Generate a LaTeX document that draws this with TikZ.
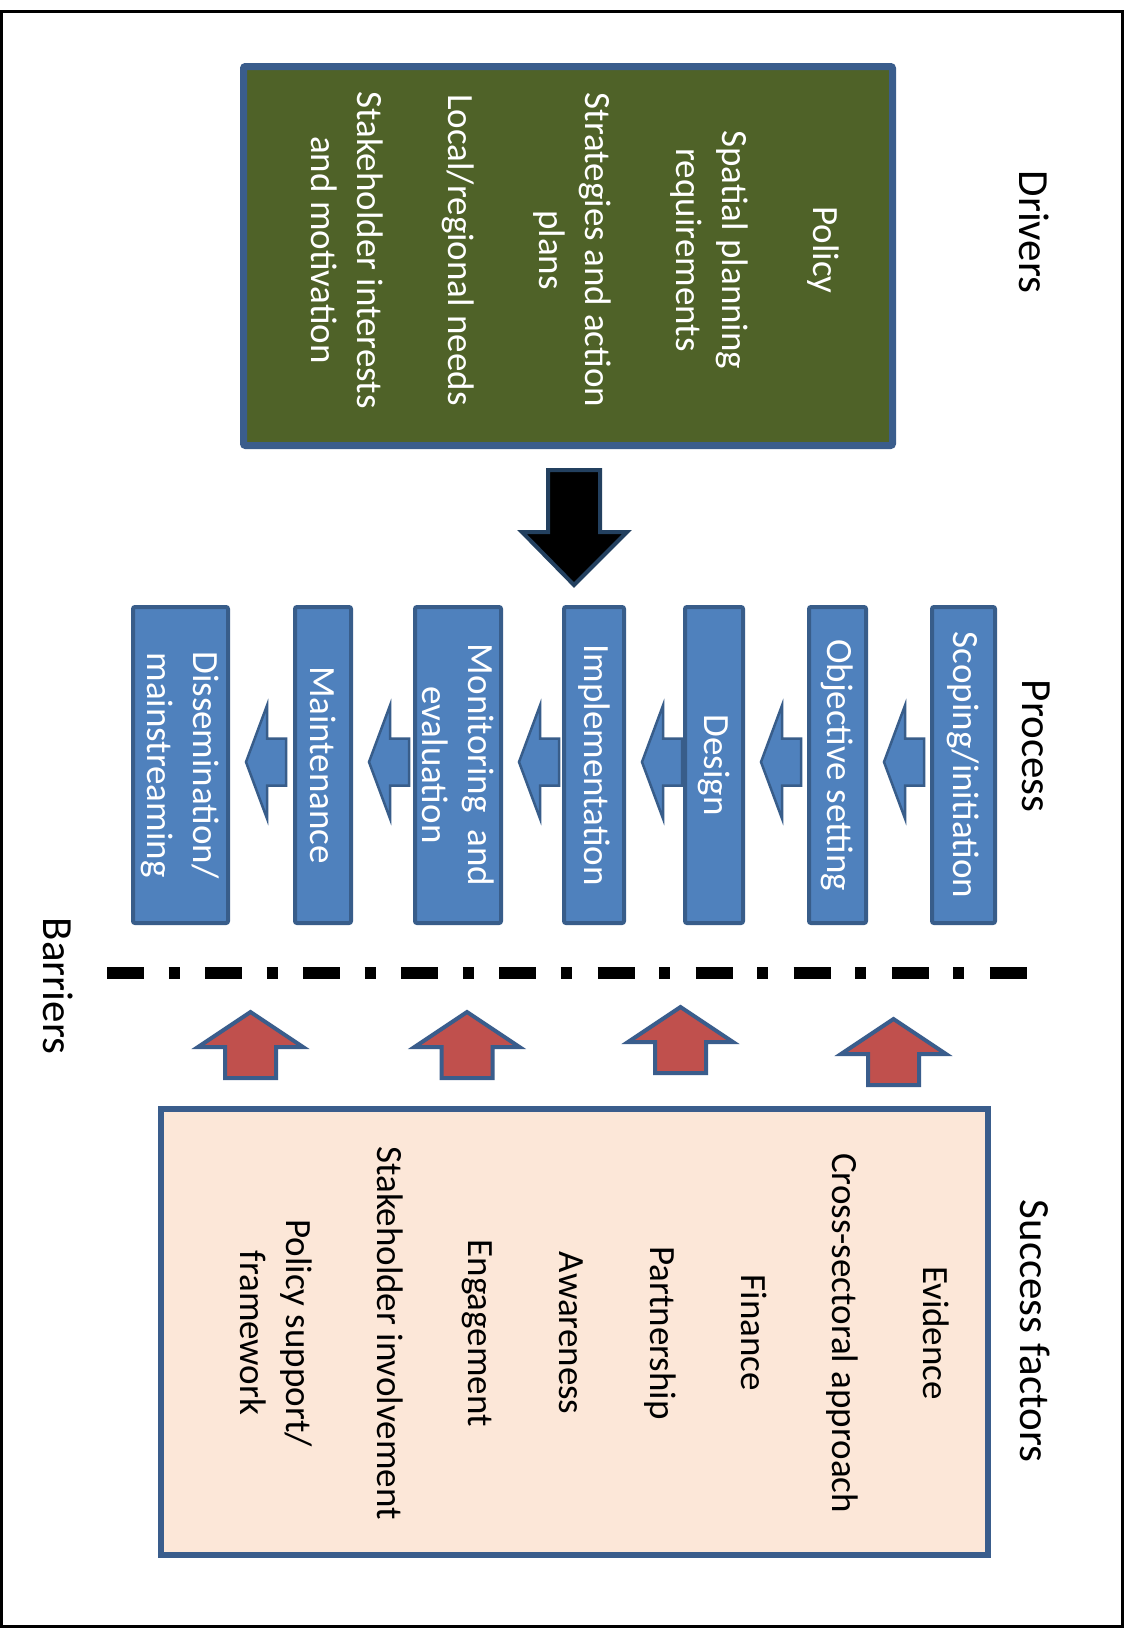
\documentclass[tikz,border=0pt]{standalone}
\usepackage{fontspec}
\setmainfont{Carlito}
\usetikzlibrary{calc}
\definecolor{greenfill}{HTML}{4F6228}
\definecolor{boxborder}{HTML}{3A5D8C}
\definecolor{pfill}{HTML}{4F81BD}
\definecolor{pborder}{HTML}{385D8A}
\definecolor{peach}{HTML}{FCE7D8}
\definecolor{redfill}{HTML}{C0504D}
\definecolor{navy}{HTML}{23405F}

\newcommand\procarrow[2]{%
  \draw[smallarrow] ($(#1.north)+(16,-3)$) -- ++(21,-56.5) -- ++(0,33) -- ++(19,0)
    -- ++(0,47) -- ++(-19,0) -- ++(0,33) -- cycle;}
\newcommand\succarrow[1]{%
  \draw[uparrow] ($(#1)+(-25.5,0)$) -- ++(0,-31) -- ++(-27,0) -- ++(52.5,-35)
    -- ++(52.5,35) -- ++(-27,0) -- ++(0,31) -- cycle;}

\begin{document}
\begin{tikzpicture}[x=1pt,y=-1pt,
  pbox/.style={draw=pborder, fill=pfill, line width=4pt, rotate=-90,
    minimum width=316pt, inner sep=0pt, text=white,
    font=\fontsize{37}{46}\selectfont, align=center, rounded corners=2pt},
  lbl/.style={rotate=-90, inner sep=0pt, font=\fontsize{43}{50}\selectfont},
  listtext/.style={rotate=-90, inner sep=0pt, align=center,
    font=\fontsize{37}{46}\selectfont},
  smallarrow/.style={draw=pborder, fill=pfill, line width=2.5pt},
  uparrow/.style={draw=boxborder, fill=redfill, line width=4pt},
  bigarrow/.style={draw=navy, fill=black, line width=4pt},
  barrierline/.style={line width=12pt,
    dash pattern=on 37pt off 24.5pt on 11pt off 25.6pt}
]
\useasboundingbox (0,0) rectangle (1127,1628);
\fill[white] (0,0) rectangle (1127,1628);
\draw[line width=3pt] (1.5,11.5) rectangle (1122.5,1626);

% Drivers
\node[draw=boxborder, fill=greenfill, line width=7pt, minimum width=649pt,
  minimum height=379pt, inner sep=0pt, rounded corners=2pt] (drvbox) at (568,256) {};
\node[listtext, text=white] (drvtext) at (575,250)
  {Policy\\[45pt] Spatial planning\\requirements\\[45pt] Strategies and action\\plans\\[45pt]
   Local/regional needs\\[45pt] Stakeholder interests\\and motivation};
\node[lbl] (drivers) at (1034,232) {Drivers};

% Process
\node[pbox, minimum height=63pt] (scop) at (963.5,765) {Scoping/initiation};
\node[pbox, minimum height=57pt] (obj) at (837.5,765) {Objective setting};
\node[pbox, minimum height=58pt] (des) at (714,765) {Design};
\node[pbox, minimum height=60pt] (impl) at (594,765) {Implementation};
\node[pbox, minimum height=86pt] (mon) at (458,765) {Monitoring \ and\\evaluation};
\node[pbox, minimum height=56pt] (mai) at (323,765) {Maintenance};
\node[pbox, minimum height=95pt] (dis) at (180.5,765) {Dissemination/\\mainstreaming};
\node[lbl] (process) at (1036,746) {Process};

\procarrow{obj}{scop}
\procarrow{des}{obj}
\procarrow{impl}{des}
\procarrow{mon}{impl}
\procarrow{mai}{mon}
\procarrow{dis}{mai}

% Drivers -> process arrow
\coordinate (ba) at ($(drvbox.south)+(6,21)$);
\draw[bigarrow] ($(ba)+(-26,0)$) -- ++(52,0) -- ++(0,62) -- ++(27,0) -- ++(-53,53)
  -- ++(-52,-53) -- ++(26,0) -- cycle;

% Barriers
\coordinate (bl) at (107,973);
\coordinate (br) at (1028,973);
\draw[barrierline] (bl) -- (br);
\node[lbl] (barriers) at (58,986) {Barriers};

% Success factors
\node[draw=boxborder, fill=peach, line width=6pt, minimum width=827pt,
  minimum height=446pt, inner sep=0pt] (sfbox) at (574.5,1332) {};
\node[listtext] (sftext) at (594.5,1333)
  {Evidence\\[45pt] Cross-sectoral approach\\[45pt] Finance\\[45pt] Partnership\\[45pt]
   Awareness\\[45pt] Engagement\\[45pt] Stakeholder involvement\\[45pt] Policy support/\\framework};
\node[lbl] (success) at (1035,1331) {Success factors};

\coordinate (sa1) at (893.5,1085);
\coordinate (sa2) at (680.5,1073);
\coordinate (sa3) at (467,1078);
\coordinate (sa4) at (250.5,1078);
\succarrow{sa1}
\succarrow{sa2}
\succarrow{sa3}
\succarrow{sa4}
\end{tikzpicture}
\end{document}
